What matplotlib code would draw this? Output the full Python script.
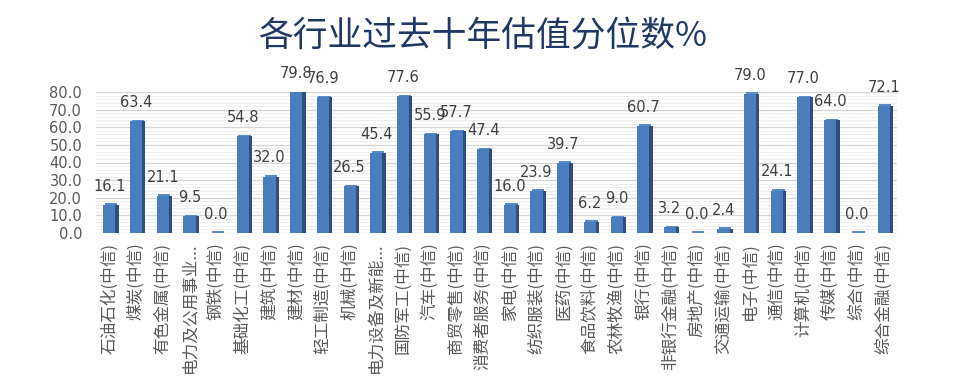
import matplotlib
matplotlib.use("Agg")
import matplotlib.pyplot as plt
import numpy as np

plt.rcParams['font.family'] = ['Noto Sans CJK SC', 'DejaVu Sans']

categories = ["石油石化(中信)", "煤炭(中信)", "有色金属(中信)", "电力及公用事业...", "钢铁(中信)",
              "基础化工(中信)", "建筑(中信)", "建材(中信)", "轻工制造(中信)", "机械(中信)",
              "电力设备及新能...", "国防军工(中信)", "汽车(中信)", "商贸零售(中信)", "消费者服务(中信)",
              "家电(中信)", "纺织服装(中信)", "医药(中信)", "食品饮料(中信)", "农林牧渔(中信)",
              "银行(中信)", "非银行金融(中信)", "房地产(中信)", "交通运输(中信)", "电子(中信)",
              "通信(中信)", "计算机(中信)", "传媒(中信)", "综合(中信)", "综合金融(中信)"]
values = [16.1, 63.4, 21.1, 9.5, 0.0, 54.8, 32.0, 79.8, 76.9, 26.5,
          45.4, 77.6, 55.9, 57.7, 47.4, 16.0, 23.9, 39.7, 6.2, 9.0,
          60.7, 3.2, 0.0, 2.4, 79.0, 24.1, 77.0, 64.0, 0.0, 72.1]
yticks = [0, 10, 20, 30, 40, 50, 60, 70, 80]
title = "各行业过去十年估值分位数%"

fig = plt.figure(figsize=(9.65, 3.9), dpi=100)
ax = fig.add_axes([96/965, 1-233/390, (897-96)/965, (233-92)/390])

x = np.arange(len(values))
# gridlines (back wall)
for v in np.arange(0, 80.1, 2):
    ax.axhline(v, color='#ececec', lw=0.6, zorder=0)
for v in yticks:
    ax.axhline(v, color='#d4d4d4', lw=0.9, zorder=0)

w = 0.46
# side face (depth)
ax.bar(x + 0.12, values, width=w, color='#2c4f7c', zorder=2, align='center')
# front face
ax.bar(x, values, width=w, color='#4a7dbd', zorder=3, align='center')
# top sliver
tops = np.array(values)
ax.bar(x + 0.06, [0.9]*len(values), bottom=tops, width=w, color='#5a8bc8', zorder=3)

for xi, v in zip(x, values):
    ax.annotate(f"{v:.1f}", (xi, v), xytext=(0, 8), textcoords='offset points',
                ha='center', va='bottom', fontsize=10.5, color='#404040',
                family='DejaVu Sans', zorder=5)

ax.set_xlim(-0.5, len(values) - 0.5)
ax.set_ylim(0, 80)
ax.set_yticks(yticks)
ax.set_yticklabels([f"{v:.1f}" for v in yticks], fontsize=10.5, color='#595959', family='DejaVu Sans')
ax.set_xticks(x)
ax.set_xticklabels(categories, rotation=90, fontsize=12, color='#595959', va='top', ha='center')
ax.tick_params(axis='x', length=0, pad=7)
ax.tick_params(axis='y', length=0, pad=10)
for s in ax.spines.values():
    s.set_visible(False)
ax.patch.set_alpha(0)

fig.text(483/965, 1-37/390, title, ha='center', va='center', fontsize=25, color='#203864')

fig.savefig("out.png", dpi=100)
